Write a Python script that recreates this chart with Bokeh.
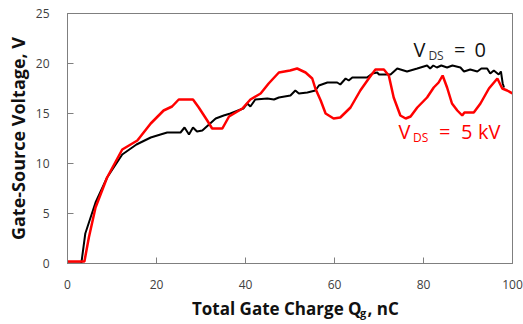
import math
from bokeh.plotting import figure
from bokeh.layouts import column
from bokeh.models import Range1d, FixedTicker, Label, LinearAxis
from bokeh.core.properties import value
from bokeh.embed import file_html
from bokeh.resources import INLINE

# ---- data ----
x_ticks = [0, 20, 40, 60, 80, 100]
y_ticks = [0, 5, 10, 15, 20, 25]

q_black = [0, 3.1, 4.0, 6.3, 8.9, 12.3, 15.5, 18.7, 20.9, 22.4, 25.4, 26.3, 27.3, 28.2,
           29.1, 30.3, 33.3, 35.1, 36.6, 39.5, 40.4, 41.1, 42.2, 44.9, 46.4, 47.5, 50.1,
           51.2, 52.0, 53.9, 55.7, 56.5, 58.4, 60.6, 61.3, 62.5, 63.2, 64.0, 67.3, 68.5,
           69.6, 70.0, 72.6, 74.1, 76.3, 78.6, 80.8, 81.5, 82.2, 83.0, 84.0, 85.3, 86.5,
           88.3, 89.1, 90.5, 92.1, 93.0, 94.3, 95.0, 95.8, 96.9, 97.4, 97.8, 98.1]
v_black = [0, 0, 3.0, 6.1, 8.6, 10.9, 11.9, 12.6, 12.9, 13.1, 13.1, 13.6, 12.9, 13.6,
           13.2, 13.3, 14.5, 14.8, 15.0, 15.5, 16.0, 15.7, 16.4, 16.5, 16.4, 16.6, 16.8,
           17.3, 17.0, 17.1, 17.3, 17.8, 18.1, 18.1, 17.9, 18.5, 18.3, 18.6, 18.6, 19.0,
           19.1, 18.9, 18.9, 19.5, 19.2, 19.5, 19.8, 19.5, 19.8, 19.6, 19.8, 19.6, 19.8,
           19.6, 19.2, 19.4, 19.2, 19.5, 19.5, 19.0, 19.3, 18.9, 19.2, 18.0, 17.6]

q_red = [0, 3.8, 4.8, 6.3, 8.9, 12.3, 15.7, 18.7, 21.6, 23.5, 25.0, 28.2, 29.5, 31.4,
         32.5, 34.8, 36.3, 39.3, 41.1, 43.4, 45.2, 47.5, 50.0, 51.6, 53.5, 55.0, 55.7,
         56.9, 58.0, 59.8, 61.3, 63.6, 65.8, 67.7, 69.2, 71.1, 72.2, 73.3, 74.8, 76.0,
         77.1, 78.6, 80.8, 82.3, 83.4, 84.3, 85.3, 86.4, 87.6, 88.7, 89.2, 91.3, 92.8,
         94.7, 96.6, 97.7, 98.8, 100]
v_red = [0.2, 0.2, 2.6, 5.6, 8.6, 11.4, 12.3, 14.0, 15.3, 15.7, 16.4, 16.4, 15.6, 14.3,
         13.5, 13.5, 14.7, 15.5, 16.4, 17.0, 18.0, 19.1, 19.3, 19.5, 19.1, 18.5, 17.5,
         16.3, 15.0, 14.5, 14.6, 15.6, 17.3, 18.5, 19.4, 19.4, 18.8, 16.6, 14.8, 14.5,
         14.7, 15.6, 16.6, 17.6, 18.1, 18.8, 17.6, 16.0, 15.3, 14.8, 15.1, 15.1, 16.0,
         17.5, 18.5, 17.5, 17.3, 17.0]

FONT = "Open Sans"
AX = "#7f7f7f"
TITLE_C = "#111111"

# ---------------- main chart ----------------
p = figure(width=523, height=296, output_backend="svg", toolbar_location=None,
           x_range=Range1d(0, 100), y_range=Range1d(0, 25),
           min_border_left=67, min_border_right=11, min_border_top=13, min_border_bottom=33)
p.background_fill_color = "white"
p.border_fill_color = "white"
p.outline_line_color = AX
p.grid.visible = False

p.xaxis.ticker = FixedTicker(ticks=x_ticks)
p.yaxis.ticker = FixedTicker(ticks=y_ticks)
for ax in (p.xaxis[0], p.yaxis[0]):
    ax.major_tick_in = 6
    ax.major_tick_out = 0
    ax.minor_tick_in = 0
    ax.minor_tick_out = 0
    ax.axis_line_color = AX
    ax.major_tick_line_color = AX
    ax.major_label_text_font = FONT
    ax.major_label_text_font_size = "12px"
    ax.major_label_text_color = "#404040"
p.xaxis.major_label_standoff = 16
p.yaxis.major_label_standoff = 18

p.yaxis.axis_label = "Gate-Source Voltage, V"
p.yaxis.axis_label_text_font = FONT
p.yaxis.axis_label_text_font_size = "18px"
p.yaxis.axis_label_text_font_style = "bold"
p.yaxis.axis_label_text_color = TITLE_C
p.yaxis.axis_label_standoff = 3

for side in ("right", "above"):
    fr = LinearAxis(ticker=FixedTicker(ticks=[]), axis_line_color=AX,
                    major_tick_in=0, major_tick_out=0, minor_tick_in=0, minor_tick_out=0,
                    major_label_text_alpha=0)
    p.add_layout(fr, side)

p.line(q_black, v_black, line_color="black", line_width=2)
p.line(q_red, v_red, line_color="#ff0000", line_width=2.5)


def lab(x, y, text, size, color):
    p.add_layout(Label(x=x, y=y, text=text, text_font=FONT, text_font_size=size,
                       text_color=color, text_align="left", text_baseline="alphabetic"))


# V_DS = 0 (black)
lab(77.75, 21.4, "V", "20px", TITLE_C)
lab(81.1, 20.85, "DS", "12px", "#333333")
lab(86.85, 21.4, "=", "20px", TITLE_C)
lab(91.46, 21.4, "0", "20px", TITLE_C)
# V_DS = 5 kV (red)
lab(74.38, 13.17, "V", "20px", "#ff0000")
lab(77.64, 12.6, "DS", "12px", "#ff0000")
lab(83.48, 13.17, "=", "20px", "#ff0000")
lab(88.43, 13.17, "5", "20px", "#ff0000")
lab(92.25, 13.17, "kV", "20px", "#ff0000")

# ---------------- x title strip ----------------
# its frame is aligned with the chart frame (page x 67..512), so data x = page x
bottom = figure(width=523, height=28, output_backend="svg", toolbar_location=None,
                x_range=Range1d(67, 512), y_range=Range1d(324, 296),
                x_axis_type=None, y_axis_type=None,
                min_border_left=67, min_border_right=11,
                min_border_top=0, min_border_bottom=0)
bottom.outline_line_color = None
bottom.grid.visible = False
bottom.background_fill_color = "white"
bottom.border_fill_color = "white"
bottom.text(x=[191.5], y=[308], text=["Total Gate Charge Q"], text_font=value(FONT),
            text_font_size="17px", text_font_style="bold", text_color=TITLE_C,
            text_align="left", text_baseline="alphabetic")
bottom.text(x=[359.5], y=[311.5], text=["g"], text_font=value(FONT),
            text_font_size="11px", text_font_style="bold", text_color=TITLE_C,
            text_align="left", text_baseline="alphabetic")
bottom.text(x=[367], y=[308], text=[", nC"], text_font=value(FONT),
            text_font_size="17px", text_font_style="bold", text_color=TITLE_C,
            text_align="left", text_baseline="alphabetic")

layout = column(p, bottom, spacing=0)

open("out.html", "w").write(file_html(layout, INLINE))
